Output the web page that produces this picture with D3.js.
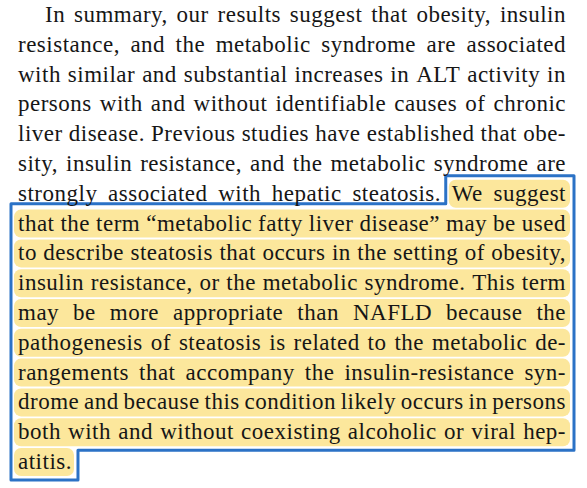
<!DOCTYPE html>
<html>
<head>
<meta charset="utf-8">
<script src="https://cdn.jsdelivr.net/npm/d3@7"></script>
<style>
  html, body { margin: 0; padding: 0; background: #fff; }
  #chart svg { display: block; }
  .words text { font-family: 'Liberation Serif', 'Times New Roman', Times, serif; }
</style>
</head>
<body>
<div id="chart"></div>
<script>
// Data
const lines = [
  'In summary, our results suggest that obesity, insulin',
  'resistance, and the metabolic syndrome are associated',
  'with similar and substantial increases in ALT activity in',
  'persons with and without identifiable causes of chronic',
  'liver disease. Previous studies have established that obe-',
  'sity, insulin resistance, and the metabolic syndrome are',
  'strongly associated with hepatic steatosis. We suggest',
  'that the term \u201cmetabolic fatty liver disease\u201d may be used',
  'to describe steatosis that occurs in the setting of obesity,',
  'insulin resistance, or the metabolic syndrome. This term',
  'may be more appropriate than NAFLD because the',
  'pathogenesis of steatosis is related to the metabolic de-',
  'rangements that accompany the insulin-resistance syn-',
  'drome and because this condition likely occurs in persons',
  'both with and without coexisting alcoholic or viral hep-',
  'atitis.',
];
const highlightFrom = [6, 5]; // line, word ("We")
const highlightTo = [15];     // last line

function draw() {
  // Dimensions
  let dimensions = {
    width: 587,
    height: 488,
    left: 18,
    right: 566,
    indent: 45,
    fontSize: 23,
    letterSpacing: 0.5,
  };

  const yScale = d3
    .scaleLinear() //
    .domain([0, lines.length - 1])
    .range([22, 469]);

  const svg = d3
    .select('#chart')
    .append('svg')
    .attr('width', dimensions.width)
    .attr('height', dimensions.height);

  const hlGroup = svg.append('g').classed('highlights', true);
  const boxGroup = svg.append('g').classed('box', true);
  const textGroup = svg
    .append('g')
    .classed('words', true)
    .style('font-size', dimensions.fontSize + 'px')
    .style('letter-spacing', dimensions.letterSpacing + 'px')
    .attr('fill', '#161616');

  // measure words
  const probe = textGroup.append('text').attr('x', -1000).attr('y', -1000);
  const measure = (s) => {
    probe.text(s);
    return probe.node().getComputedTextLength();
  };
  const spaceW = measure('a b') - measure('ab');

  const layout = lines.map((line, i) => {
    const words = line.split(' ');
    const widths = words.map(measure);
    const start = i === 0 ? dimensions.indent : dimensions.left;
    const total = d3.sum(widths);
    const last = i === lines.length - 1;
    const gap = last || words.length < 2 ? spaceW : (dimensions.right - start - total) / (words.length - 1);
    let x = start;
    return words.map((w, j) => {
      const item = { text: w, x, w: widths[j], line: i };
      x += widths[j] + gap;
      return item;
    });
  });
  probe.remove();

  // Draw words
  textGroup
    .selectAll('text')
    .data(layout.flat())
    .join('text')
    .attr('x', (d) => d.x)
    .attr('y', (d) => yScale(d.line))
    .text((d) => d.text);

  // Highlight rows
  const rows = d3.range(highlightFrom[0], highlightTo[0] + 1).map((i) => {
    const words = layout[i];
    const x0 = i === highlightFrom[0] ? words[highlightFrom[1]].x - 3 : dimensions.left - 4;
    const lastWord = words[words.length - 1];
    const x1 = i === highlightTo[0] ? lastWord.x + lastWord.w + 2 : dimensions.right + 4;
    return { i, x0, x1, y0: yScale(i) - 21, y1: yScale(i) + 7 };
  });

  hlGroup
    .selectAll('rect')
    .data(rows)
    .join('rect')
    .attr('x', (d) => d.x0)
    .attr('y', (d) => d.y0)
    .attr('width', (d) => d.x1 - d.x0)
    .attr('height', (d) => d.y1 - d.y0)
    .attr('rx', 7)
    .attr('fill', '#fce79c');

  // Outline around the highlight
  const pad = 4;
  const first = rows[0];
  const last = rows[rows.length - 1];
  const L = dimensions.left - 4 - pad + 1;
  const R = dimensions.right + 4 + pad;
  const pts = [
    [first.x0 - pad + 1, first.y0 - pad],
    [R, first.y0 - pad],
    [R, rows[rows.length - 2].y1 + 4],
    [last.x1 + pad, rows[rows.length - 2].y1 + 4],
    [last.x1 + pad, last.y1 + pad],
    [L, last.y1 + pad],
    [L, yScale(first.i) + 3],
    [first.x0 - pad + 1, yScale(first.i) + 3],
  ];

  boxGroup
    .append('path')
    .attr('d', d3.line().curve(d3.curveLinearClosed)(pts))
    .attr('fill', 'none')
    .attr('stroke', '#2b72c6')
    .attr('stroke-width', 3)
    .attr('stroke-linejoin', 'round');
}

draw();
</script>
</body>
</html>
